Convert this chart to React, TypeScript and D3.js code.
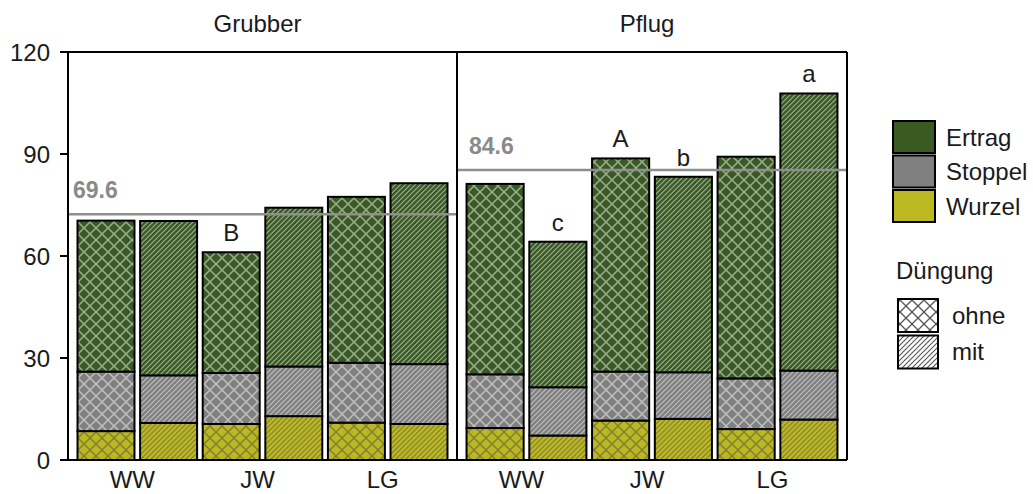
import React from "react";
import * as d3 from "d3";

const tillages = ["Grubber", "Pflug"];
const crops = ["WW", "JW", "LG"];
const fertilization = ["ohne", "mit"];
const components = ["Wurzel", "Stoppel", "Ertrag"];
const componentColors = ["#bcb822", "#808080", "#3a5a24"];

// order: Grubber WW ohne, WW mit, JW ohne, JW mit, LG ohne, LG mit, then Pflug likewise
const wurzel = [8.5, 10.9, 10.6, 12.9, 11.0, 10.6, 9.4, 7.2, 11.6, 12.1, 9.1, 11.9];
const stoppel = [17.5, 14.0, 15.0, 14.6, 17.6, 17.6, 15.8, 14.2, 14.4, 13.7, 14.9, 14.4];
const ertrag = [44.4, 45.4, 35.5, 46.7, 48.8, 53.2, 56.0, 42.8, 62.7, 57.5, 65.2, 81.5];

const meanLineValues = [72.3, 85.3];
const meanLineLabels = ["69.6", "84.6"];

const letterBars = [2, 7, 8, 9, 11];
const letterTexts = ["B", "c", "A", "b", "a"];

const yTicks = [0, 30, 60, 90, 120];

const FONT = "'Liberation Sans', Arial, sans-serif";
const TXT = "#1a1a1a";

export default function App() {
  const W = 1033, H = 494;
  const plotLeft = 68, plotRight = 847, divider = 457;
  const y = d3.scaleLinear().domain([0, 120]).range([460, 52]);
  const panelRanges: [number, number][] = [[plotLeft, divider], [divider, plotRight]];
  const labelOffsets = [5, 12];

  const barIds = crops.flatMap((c) => fertilization.map((f) => `${c}-${f}`));
  const xScales = panelRanges.map((r) =>
    d3.scaleBand<string>().domain(barIds).range(r).paddingInner(0.09).paddingOuter(0.152)
  );

  const stackRows = wurzel.map((_, i) => ({ Wurzel: wurzel[i], Stoppel: stoppel[i], Ertrag: ertrag[i] }));
  const stacked = d3.stack<any>().keys(components)(stackRows);

  const bars: any[] = [];
  for (let i = 0; i < wurzel.length; i++) {
    const panel = Math.floor(i / 6);
    const local = i % 6;
    const x = xScales[panel];
    const id = barIds[local];
    const fert = fertilization[local % 2];
    components.forEach((k, ci) => {
      const [y0, y1] = stacked[ci][i];
      bars.push({ key: `${i}-${k}`, x: x(id)!, w: x.bandwidth(), y0, y1, ci, fert });
    });
  }
  const topOf = (i: number) => wurzel[i] + stoppel[i] + ertrag[i];
  const barCenter = (i: number) => {
    const p = Math.floor(i / 6);
    const x = xScales[p];
    return x(barIds[i % 6])! + x.bandwidth() / 2;
  };

  const lineCol = (ci: number) => (ci === 0 ? "rgba(70,70,70,0.5)" : "rgba(255,255,255,0.5)");

  return (
    <svg width={W} height={H} style={{ position: "absolute", left: 0, top: 0, background: "#fff" }} fontFamily={FONT}>
      <defs>
        {componentColors.map((c, ci) => (
          <React.Fragment key={ci}>
            <pattern id={`p-ohne-${ci}`} patternUnits="userSpaceOnUse" width={12} height={12}>
              <rect width={12} height={12} fill={c} />
              <path d="M0,0 L12,12 M12,0 L0,12" stroke={lineCol(ci)} strokeWidth={1.5} fill="none" />
            </pattern>
            <pattern id={`p-mit-${ci}`} patternUnits="userSpaceOnUse" width={5} height={5}>
              <rect width={5} height={5} fill={c} />
              <path d="M0,5 L5,0 M-1,1 L1,-1 M4,6 L6,4" stroke={lineCol(ci)} strokeWidth={1.2} fill="none" />
            </pattern>
          </React.Fragment>
        ))}
        <pattern id="lg-ohne" patternUnits="userSpaceOnUse" width={12} height={12}>
          <rect width={12} height={12} fill="#fff" />
          <path d="M0,0 L12,12 M12,0 L0,12" stroke="#555" strokeWidth={1.3} fill="none" />
        </pattern>
        <pattern id="lg-mit" patternUnits="userSpaceOnUse" width={5} height={5}>
          <rect width={5} height={5} fill="#fff" />
          <path d="M0,5 L5,0 M-1,1 L1,-1 M4,6 L6,4" stroke="#555" strokeWidth={1.1} fill="none" />
        </pattern>
      </defs>

      {bars.map((b) => (
        <rect
          key={b.key}
          x={b.x}
          y={y(b.y1)}
          width={b.w}
          height={y(b.y0) - y(b.y1)}
          fill={`url(#p-${b.fert}-${b.ci})`}
          stroke="#000"
          strokeWidth={2}
        />
      ))}

      {meanLineValues.map((v, i) => (
        <g key={`m${i}`}>
          <line x1={panelRanges[i][0]} x2={panelRanges[i][1]} y1={y(v)} y2={y(v)} stroke="#8e8e8e" strokeWidth={2.5} />
          <text x={panelRanges[i][0] + labelOffsets[i]} y={y(v) - 16} fontSize={23} fontWeight="bold" fill="#8a8a8a">
            {meanLineLabels[i]}
          </text>
        </g>
      ))}

      {letterBars.map((bi, i) => (
        <text key={`l${i}`} x={barCenter(bi)} y={y(topOf(bi)) - 11} textAnchor="middle" fontSize={24} fill={TXT}>
          {letterTexts[i]}
        </text>
      ))}

      <line x1={plotLeft} x2={plotRight} y1={y(120)} y2={y(120)} stroke="#000" strokeWidth={2} />
      <line x1={plotLeft} x2={plotRight} y1={y(0)} y2={y(0)} stroke="#000" strokeWidth={2} />
      <line x1={plotLeft} x2={plotLeft} y1={y(120)} y2={y(0)} stroke="#000" strokeWidth={2} />
      <line x1={divider} x2={divider} y1={y(120)} y2={y(0)} stroke="#000" strokeWidth={2} />
      <line x1={plotRight} x2={plotRight} y1={y(120)} y2={y(0)} stroke="#000" strokeWidth={2} />

      {yTicks.map((t) => (
        <g key={`t${t}`}>
          <line x1={plotLeft - 8} x2={plotLeft} y1={y(t)} y2={y(t)} stroke="#000" strokeWidth={2} />
          <text x={plotLeft - 18} y={y(t)} dy="0.36em" textAnchor="end" fontSize={24} fill={TXT}>
            {t}
          </text>
        </g>
      ))}

      {tillages.map((t, i) => (
        <text key={t} x={(panelRanges[i][0] + panelRanges[i][1]) / 2 - 5} y={32} textAnchor="middle" fontSize={24} fill={TXT}>
          {t}
        </text>
      ))}

      {tillages.map((_, p) =>
        crops.map((c) => {
          const x = xScales[p];
          const cx = (x(`${c}-ohne`)! + x(`${c}-mit`)! + x.bandwidth()) / 2 - 5;
          return (
            <text key={`${p}-${c}`} x={cx} y={488} textAnchor="middle" fontSize={24} fill={TXT}>
              {c}
            </text>
          );
        })
      )}

      {[...components].reverse().map((k, i) => {
        const ci = components.length - 1 - i;
        const top = 121 + i * 34.5;
        return (
          <g key={`lg${k}`}>
            <rect x={893} y={top} width={42} height={32} fill={componentColors[ci]} stroke="#000" strokeWidth={2} />
            <text x={946} y={top + 16} dy="0.36em" fontSize={24} fill={TXT}>
              {k}
            </text>
          </g>
        );
      })}
      <text x={896} y={270} dy="0.36em" fontSize={24} fill={TXT}>
        Düngung
      </text>
      {fertilization.map((f, i) => {
        const top = 299 + i * 36.5;
        return (
          <g key={`lf${f}`}>
            <rect x={898} y={top} width={40} height={33} fill={`url(#lg-${f})`} stroke="#000" strokeWidth={2} />
            <text x={952} y={top + 16} dy="0.36em" fontSize={24} fill={TXT}>
              {f}
            </text>
          </g>
        );
      })}
    </svg>
  );
}
